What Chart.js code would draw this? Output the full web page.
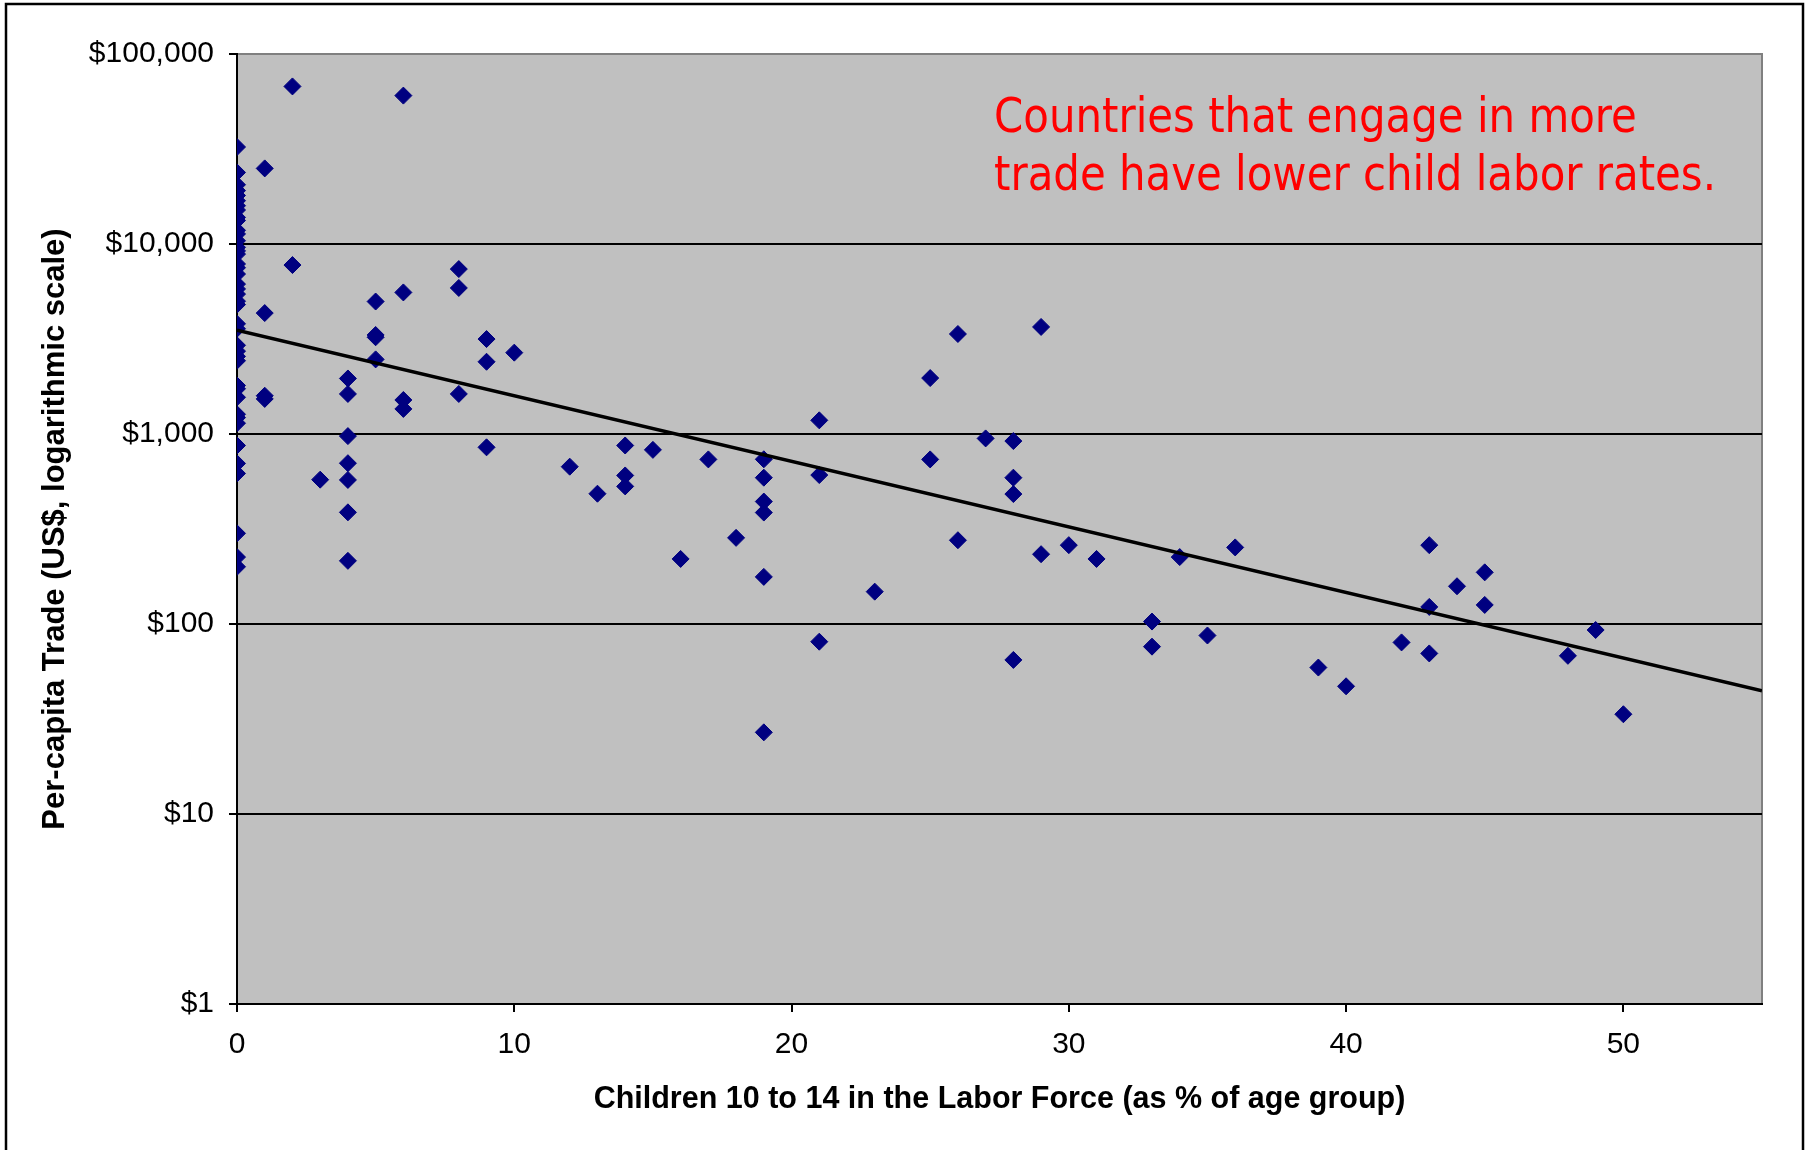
<!DOCTYPE html>
<html>
<head>
<meta charset="utf-8">
<title>Child labor and trade</title>
<script src="https://cdn.jsdelivr.net/npm/chart.js@4/dist/chart.umd.min.js"></script>
<style>
    html, body { margin: 0; padding: 0; background: #fff; }
    #wrap { position: relative; width: 1812px; height: 1150px; }
</style>
</head>
<body>
<div id="wrap"><canvas id="tradeChart"></canvas></div>
<script>
// children 10-14 in the labor force (% of age group)
const laborRates = [0, 1, 2, 3, 4, 5, 6, 8, 9, 10, 12, 13, 14, 15, 16, 17, 18, 19, 21, 23,
    25, 26, 27, 28, 29, 30, 31, 33, 34, 35, 36, 39, 40, 42, 43, 44, 45, 48, 49, 50];

// per-capita trade (US$) of the countries at each rate above
const tradeAtRate = [
    [32400, 23800, 20500, 19100, 18000, 16900, 15900, 15100, 13800, 13300, 11800, 11300,
     10400, 9600, 9200, 8850, 7850, 7500, 6950, 6150, 5800, 5450, 5000, 4800, 3800, 3580,
     2930, 2730, 2560, 2430, 1800, 1730, 1560, 1270, 1220, 1140, 870, 700, 620, 300, 225, 200],
    [25000, 4330, 1590, 1530],
    [67500, 7750],
    [575],
    [1960, 1625, 975, 702, 573, 387, 215],
    [4980, 3320, 3230, 2470],
    [60400, 5560, 1510, 1355],
    [7380, 5870, 1625],
    [3160, 2400, 851],
    [2680],
    [673],
    [485],
    [870, 605, 530],
    [825],
    [220],
    [735],
    [284],
    [736, 589, 441, 386, 177, 26.9],
    [1180, 608, 80.7],
    [148],
    [1970, 735],
    [3360, 276],
    [948],
    [918, 589, 483, 64.7],
    [3660, 233],
    [260],
    [220],
    [103, 76],
    [225],
    [87],
    [253],
    [59],
    [47],
    [80],
    [260, 123, 70],
    [158],
    [187, 126],
    [68],
    [93],
    [33.5]
];

// exponential trendline, read at both ends of the x axis
const trendX = [0, 55];
const trendY = [3520, 44.5];

const laborTicks = [0, 10, 20, 30, 40, 50];
const tradeTicks = [1, 10, 100, 1000, 10000, 100000];

const noteLines = ['Countries that engage in more', 'trade have lower child labor rates.'];

document.addEventListener('DOMContentLoaded', () => {
    const points = [];
    laborRates.forEach((rate, i) => {
        tradeAtRate[i].forEach(v => points.push({x: rate, y: v}));
    });
    const trend = trendX.map((x, i) => ({x: x, y: trendY[i]}));

    // gray plot area, its frame, the outer box and the red note
    const excelLook = {
        id: 'excelLook',
        beforeDraw(chart) {
            const {ctx, chartArea: a} = chart;
            ctx.save();
            ctx.fillStyle = '#c0c0c0';
            ctx.fillRect(a.left, a.top, a.right - a.left, a.bottom - a.top);
            ctx.strokeStyle = '#808080';
            ctx.lineWidth = 2;
            ctx.beginPath();
            ctx.moveTo(a.left, a.top);
            ctx.lineTo(a.right, a.top);
            ctx.lineTo(a.right, a.bottom);
            ctx.stroke();
            ctx.strokeStyle = '#000';
            ctx.lineWidth = 2.5;
            ctx.strokeRect(6, 4, 1797, 1200);
            ctx.restore();
        },
        afterDraw(chart) {
            const ctx = chart.ctx;
            ctx.save();
            ctx.font = '48px "DejaVu Sans Condensed", "DejaVu Sans", sans-serif';
            ctx.fillStyle = '#ff0000';
            ctx.textBaseline = 'alphabetic';
            ctx.textAlign = 'left';
            const w = ctx.measureText(noteLines[1]).width;
            ctx.translate(994, 0);
            ctx.scale(722 / w, 1);
            ctx.fillText(noteLines[0], 0, 132);
            ctx.fillText(noteLines[1], 0, 190);
            ctx.restore();
        }
    };

    const tickFont = {family: '"Liberation Sans", Arial, sans-serif', size: 30};
    const xTitleFont = {family: '"Liberation Sans", Arial, sans-serif', size: 30.5, weight: 'bold'};
    const yTitleFont = {family: '"Liberation Sans", Arial, sans-serif', size: 31, weight: 'bold'};

    new Chart(document.getElementById('tradeChart'), {
        type: 'scatter',
        data: {
            datasets: [{
                label: 'Countries',
                data: points,
                pointStyle: 'rectRot',
                pointRadius: 8.5,
                pointHoverRadius: 8.5,
                backgroundColor: '#000080',
                borderColor: '#000080',
                borderWidth: 1,
                order: 1
            }, {
                type: 'line',
                label: 'Trend',
                data: trend,
                borderColor: '#000',
                borderWidth: 3.5,
                pointRadius: 0,
                fill: false,
                order: 0
            }]
        },
        options: {
            responsive: true,
            maintainAspectRatio: false,
            animation: false,
            events: [],
            layout: {padding: {top: 54, right: 50, left: 0, bottom: 0}},
            plugins: {
                legend: {display: false},
                tooltip: {enabled: false}
            },
            scales: {
                x: {
                    type: 'linear',
                    min: 0,
                    max: 55,
                    afterBuildTicks: scale => {
                        scale.ticks = laborTicks.map(v => ({value: v}));
                    },
                    afterFit: scale => { scale.height = 146; },
                    ticks: {color: '#000', font: tickFont, padding: 15, maxRotation: 0},
                    grid: {drawOnChartArea: false, color: '#000', lineWidth: 2, tickLength: 8},
                    border: {color: '#000', width: 2},
                    title: {
                        display: true,
                        text: 'Children 10 to 14 in the Labor Force (as % of age group)',
                        color: '#000',
                        font: xTitleFont,
                        padding: {top: 0, bottom: 32}
                    }
                },
                y: {
                    type: 'logarithmic',
                    min: 1,
                    max: 100000,
                    afterBuildTicks: scale => {
                        scale.ticks = tradeTicks.map(v => ({value: v}));
                    },
                    afterFit: scale => { scale.width = 237; },
                    ticks: {
                        color: '#000',
                        font: tickFont,
                        padding: 15,
                        callback: v => '$' + Number(v).toLocaleString('en-US')
                    },
                    grid: {
                        color: c => (c.tick && c.tick.value === 100000) ? '#808080' : '#000',
                        tickColor: '#000',
                        lineWidth: 2,
                        tickLength: 8
                    },
                    border: {color: '#000', width: 2},
                    title: {
                        display: true,
                        text: 'Per-capita Trade (US$, logarithmic scale)',
                        color: '#000',
                        font: yTitleFont,
                        padding: {top: 37, bottom: 0}
                    }
                }
            }
        },
        plugins: [excelLook]
    });
});
</script>
</body>
</html>
